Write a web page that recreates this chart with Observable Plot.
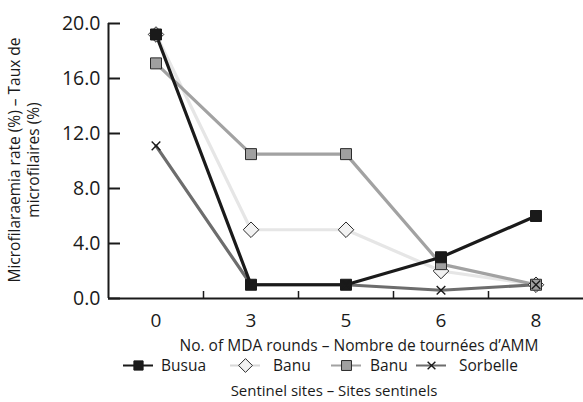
<!DOCTYPE html>
<html>
<head>
<meta charset="utf-8">
<script src="https://cdn.jsdelivr.net/npm/d3@7"></script>
<script src="https://cdn.jsdelivr.net/npm/@observablehq/plot@0.6"></script>
<style>
  html, body { margin: 0; padding: 0; background: #fff; }
  #wrap { position: relative; width: 583px; height: 402px; font-family: "Open Sans", sans-serif; color: #1a1a1a; overflow: hidden; }
  #chart { position: absolute; left: 0; top: 0; }
  .abs { position: absolute; white-space: nowrap; }
  #ytitle { left: 24px; top: 160px; width: 320px; transform: translate(-50%, -50%) rotate(-90deg); text-align: center; font-size: 15.5px; line-height: 19px; }
  #xtitle { left: 359px; top: 345px; transform: translate(-50%, -50%); font-size: 15.5px; line-height: 16px; }
  #caption { left: 334px; top: 390px; transform: translate(-50%, -50%); font-size: 15px; line-height: 16px; }
  .sw { position: absolute; top: 365px; transform: translateY(-50%); }
  .sw svg { display: block; }
  .lt { position: absolute; top: 365px; transform: translateY(-50%); font-size: 15.5px; line-height: 16px; white-space: nowrap; }
</style>
</head>
<body>
<div id="wrap">
  <div id="chart"></div>
  <div id="ytitle" class="abs">Microfilaraemia rate (%) – Taux de<br>microfilaires (%)</div>
  <div id="xtitle" class="abs">No. of MDA rounds – Nombre de tournées d’AMM</div>
  <div id="legend"></div>
  <div id="caption" class="abs">Sentinel sites – Sites sentinels</div>
</div>
<script>
const rounds = ["0", "3", "5", "6", "8"];
const busua = [19.2, 1.0, 1.0, 3.0, 6.0];
const banuDiamond = [19.2, 5.0, 5.0, 2.0, 1.0];
const banuSquare = [17.1, 10.5, 10.5, 2.5, 1.0];
const sorbelle = [11.1, 1.0, 1.0, 0.6, 1.0];
const yTicks = [0, 4, 8, 12, 16, 20];
const seriesNames = ["Busua", "Banu", "Banu", "Sorbelle"];

const series = [
  {key: "banuD", name: seriesNames[1], values: banuDiamond, line: "#e6e6e6", symbol: "diamond2", r: 7, fill: "#f2f2f2", stroke: "#2a2a2a", sw: 1},
  {key: "banuS", name: seriesNames[2], values: banuSquare, line: "#a2a2a2", symbol: "square", r: 6.2, fill: "#a0a0a0", stroke: "#2a2a2a", sw: 1},
  {key: "sorb", name: seriesNames[3], values: sorbelle, line: "#6d6d6d", symbol: "times", r: 4, fill: "none", stroke: "#1a1a1a", sw: 1.4},
  {key: "busua", name: seriesNames[0], values: busua, line: "#1a1a1a", symbol: "square", r: 6.2, fill: "#1a1a1a", stroke: "#1a1a1a", sw: 1}
];

const rows = s => s.values.map((v, i) => ({i, v, round: rounds[i]}));

const marks = [];
for (const s of series) {
  marks.push(Plot.line(rows(s), {x: "i", y: "v", stroke: s.line, strokeWidth: 3.2}));
}
const markerOrder = [series[0], series[1], series[3], series[2]];
for (const s of markerOrder) {
  marks.push(Plot.dot(rows(s), {x: "i", y: "v", symbol: s.symbol, r: s.r, fill: s.fill, stroke: s.stroke, strokeWidth: s.sw}));
}

const bounds = rounds.slice(1).map((d, i) => i + 0.5);
const idx = rounds.map((d, i) => i);

const chart = Plot.plot({
  width: 583,
  height: 336,
  marginLeft: 108,
  marginRight: 0,
  marginTop: 23,
  marginBottom: 38,
  style: {fontFamily: "Open Sans, sans-serif", color: "#1a1a1a", background: "transparent", overflow: "visible"},
  x: {type: "linear", domain: [-0.5, rounds.length - 0.5], axis: null},
  y: {domain: [0, 20], axis: null},
  marks: [
    ...marks,
    Plot.ruleY([0], {stroke: "#1a1a1a", strokeWidth: 2}),
    Plot.ruleX([-0.5], {y1: 0, y2: 20, stroke: "#1a1a1a", strokeWidth: 2}),
    Plot.axisY({ticks: yTicks, tickSize: -12, fill: "none", label: null, strokeWidth: 2, stroke: "#1a1a1a"}),
    Plot.axisY({ticks: yTicks, tickSize: 0, tickPadding: 8, tickFormat: d => d.toFixed(1), fontSize: 19.5, label: null, fill: "#1a1a1a"}),
    Plot.axisX({ticks: bounds, tickSize: -7, fill: "none", label: null, strokeWidth: 1.5, stroke: "#1a1a1a"}),
    Plot.axisX({ticks: idx, tickSize: 0, tickPadding: 15, tickFormat: i => rounds[i], fontSize: 19, label: null, fill: "#1a1a1a"})
  ]
});
document.getElementById("chart").appendChild(chart);

// legend
const legendItems = [
  {s: series[3], swLeft: 123, textLeft: 161, mr: 5.2},
  {s: series[0], swLeft: 230, textLeft: 273, mr: 6.2},
  {s: series[1], swLeft: 331, textLeft: 370, mr: 5.6},
  {s: series[2], swLeft: 416, textLeft: 459, mr: 3.6}
];
const legend = document.getElementById("legend");
for (const {s, swLeft, textLeft, mr} of legendItems) {
  const box = document.createElement("div");
  box.className = "sw";
  box.style.left = swLeft + "px";
  const sw = Plot.plot({
    width: 30, height: 16, margin: 0,
    style: {background: "transparent"},
    x: {domain: [0, 1], axis: null}, y: {domain: [0, 1], axis: null},
    marks: [
      Plot.line([{x: 0, y: 0.5}, {x: 1, y: 0.5}], {x: "x", y: "y", stroke: s.key === "banuD" ? "#d8d8d8" : s.line, strokeWidth: 2.2}),
      Plot.dot([{x: 0.5, y: 0.5}], {x: "x", y: "y", symbol: s.symbol, r: mr, fill: s.fill, stroke: s.stroke, strokeWidth: s.sw})
    ]
  });
  box.appendChild(sw);
  legend.appendChild(box);
  const t = document.createElement("div");
  t.className = "lt";
  t.style.left = textLeft + "px";
  t.textContent = s.name;
  legend.appendChild(t);
}
</script>
</body>
</html>
